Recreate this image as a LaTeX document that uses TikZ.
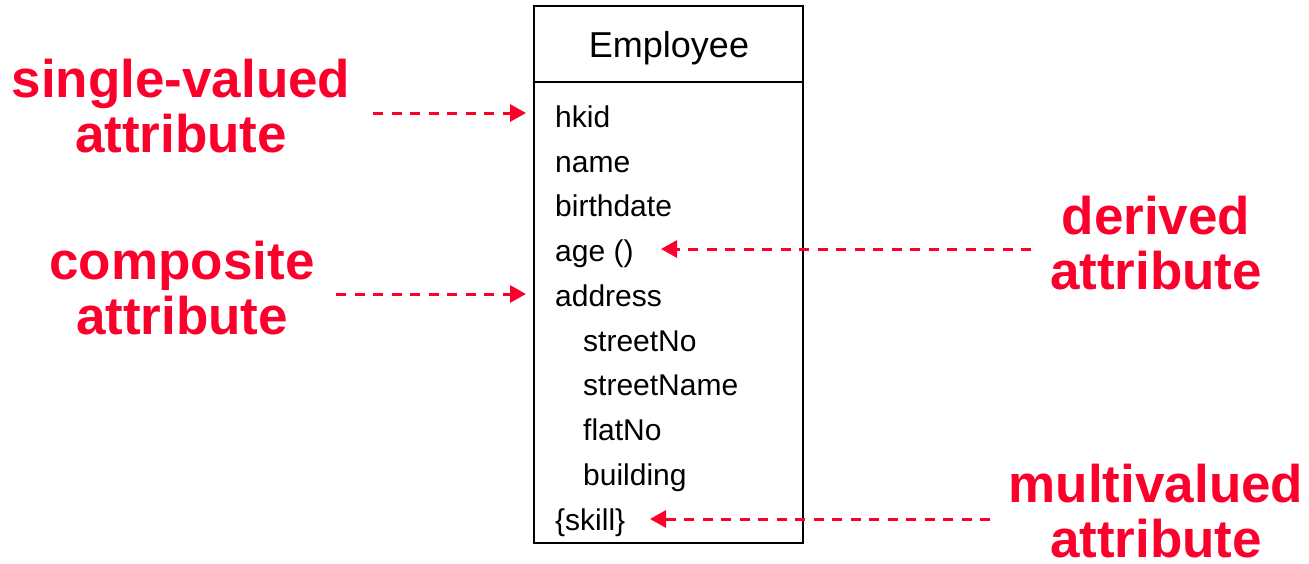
\documentclass[tikz,border=0pt]{standalone}
\usepackage{fontspec}
\setmainfont{Liberation Sans}
\usetikzlibrary{arrows.meta}
\definecolor{notered}{RGB}{252,0,44}
\tikzset{
  attr/.style={anchor=base west, inner sep=0pt, font=\fontsize{30}{36}\selectfont},
  title/.style={anchor=base, inner sep=0pt, font=\fontsize{36}{42}\selectfont},
  note/.style={anchor=base, inner sep=0pt, align=center, text=notered, text depth=0pt,
    font=\fontsize{53}{55}\bfseries\selectfont},
  pointer/.style={draw=notered, line width=3pt, dash pattern=on 10pt off 8.5pt,
    -{Triangle[length=16pt,width=17pt]}},
}
\begin{document}
\begin{tikzpicture}[x=1pt,y=-1pt]
\useasboundingbox (0,0) rectangle (1309,563);

% class box with its header
\draw[line width=1.5pt] (534,6) rectangle (803,543);
\draw[line width=1.5pt] (534,82) -- (803,82);
\node[title] (cls) at (669,57) {Employee};

% attributes
\node[attr] (hkid)   at (555,127) {hkid};
\node[attr] (name)   at (555,172) {name};
\node[attr] (birth)  at (555,216) {birthdate};
\node[attr] (age)    at (555,261) {age ()};
\node[attr] (addr)   at (555,306) {address};
\node[attr] (stno)   at (583,351) {streetNo};
\node[attr] (stname) at (583,395) {streetName};
\node[attr] (flat)   at (583,440) {flatNo};
\node[attr] (bldg)   at (583,485) {building};
\node[attr] (skill)  at (555,530) {\{skill\}};

% annotation labels (anchored on the baseline of their last line)
\node[note] (single)  at (181,152) {single-valued\\attribute};
\node[note] (compos)  at (182,334) {composite\\attribute};
\node[note] (derived) at (1156,289) {derived\\attribute};
\node[note] (multi)   at (1156,557) {multivalued\\attribute};

% pointer ends
\coordinate (singleT) at (373,113);
\coordinate (singleH) at (526,113);
\coordinate (composT) at (336,294);
\coordinate (composH) at (526,294);
\coordinate (derivedT) at (1031,249);
\coordinate (derivedH) at (661,249);
\coordinate (multiT) at (990,519);
\coordinate (multiH) at (650,519);

\draw[pointer] (singleT) -- (singleH);
\draw[pointer] (composT) -- (composH);
\draw[pointer] (derivedT) -- (derivedH);
\draw[pointer] (multiT) -- (multiH);
\end{tikzpicture}
\end{document}
